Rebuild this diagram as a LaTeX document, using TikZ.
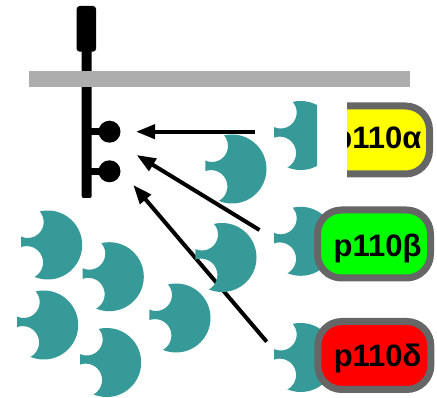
\documentclass[tikz,border=0pt]{standalone}
\usepackage{fontspec}
\setmainfont{Liberation Sans}
\usetikzlibrary{arrows.meta}

\definecolor{subteal}{RGB}{54,155,152}
\definecolor{memgray}{RGB}{173,173,173}
\definecolor{rimgray}{RGB}{102,102,102}
\definecolor{isoyellow}{RGB}{255,255,0}
\definecolor{isogreen}{RGB}{0,255,0}
\definecolor{isored}{RGB}{255,0,0}

\tikzset{
  % regulatory subunit: a disc cut flat on the left, with two round bites
  subunit/.pic={
    \begin{scope}
      \clip (-26.7,-40) rectangle (40,40);
      \clip (0,0) circle (34.5pt);
      \fill[subteal, even odd rule] (-40,-40) rectangle (40,40)
        (-20,-23) circle (16pt) (-21,17.5) circle (16.4pt);
    \end{scope}
  },
  isobox/.style={draw=rimgray, line width=7pt, rounded corners=24pt,
    minimum width=113pt, minimum height=68pt, inner sep=0pt},
  isotext/.style={font=\fontsize{31}{33}\selectfont\bfseries, inner sep=0pt,
    anchor=base east},
  site/.style={circle, fill=black, minimum size=22pt, inner sep=0pt},
  signal/.style={line width=4pt, -{Triangle[length=19pt,width=14pt]}},
}

\begin{document}
\begin{tikzpicture}[x=1pt,y=-1pt]
  \useasboundingbox (0,0) rectangle (437,398);

  % receptor: extracellular cap and stem
  \fill[rounded corners=3pt] (76.7,6) rectangle (96,51.7);
  \fill[rounded corners=2pt] (81.7,48) rectangle (91.7,198);
  % membrane
  \fill[memgray] (29.3,70.7) rectangle (410,86.7);

  % phosphorylated docking sites
  \node[site] (site1) at (109.5,131.7) {};
  \node[site] (site2) at (109.5,171.3) {};
  \fill (90,128.4) rectangle (102,135);
  \fill (90,168) rectangle (102,174.6);

  % path of the lowest recruitment arrow runs beneath one subunit
  \coordinate (a3s) at (266.7,341.7);
  \coordinate (a3t) at (133.3,185);
  \draw[signal] (a3s) -- (a3t);

  % free regulatory subunits
  \pic (s1) at (47.7,245) {subunit};
  \pic (s2) at (109.3,276.7) {subunit};
  \pic (s3) at (43.7,325) {subunit};
  \pic (s4) at (106.7,362.5) {subunit};
  \pic (s5) at (176,318) {subunit};
  \pic (s6) at (232,169) {subunit};
  \pic (s7) at (222,257.5) {subunit};

  % recruitment arrows
  \coordinate (a1s) at (255,131.7);
  \coordinate (a1t) at (136,131.7);
  \coordinate (a2s) at (259.5,230);
  \coordinate (a2t) at (136.7,155);
  \draw[signal] (a1s) -- (a1t);
  \draw[signal] (a2s) -- (a2t);

  % p110 alpha complex, cut on its left side
  \begin{scope}
    \clip (250,95) rectangle (317,185);
    \pic (ra) at (300.7,135.5) {subunit};
  \end{scope}
  \begin{scope}
    \clip (347,95) rectangle (440,185);
    \node[isobox, fill=isoyellow] (alpha) at (373,140) {};
    \node[isotext] (alphaT) at (421.7,149) {p110α};
  \end{scope}

  % p110 beta complex
  \pic (rb) at (300.7,241.3) {subunit};
  \node[isobox, fill=isogreen] (beta) at (374,244) {};
  \node[isotext] (betaT) at (421.7,256.7) {p110β};

  % p110 delta complex
  \pic (rd) at (300.7,357.5) {subunit};
  \node[isobox, fill=isored] (delta) at (374.3,355.5) {};
  \node[isotext] (deltaT) at (421.7,366.7) {p110δ};
\end{tikzpicture}
\end{document}
